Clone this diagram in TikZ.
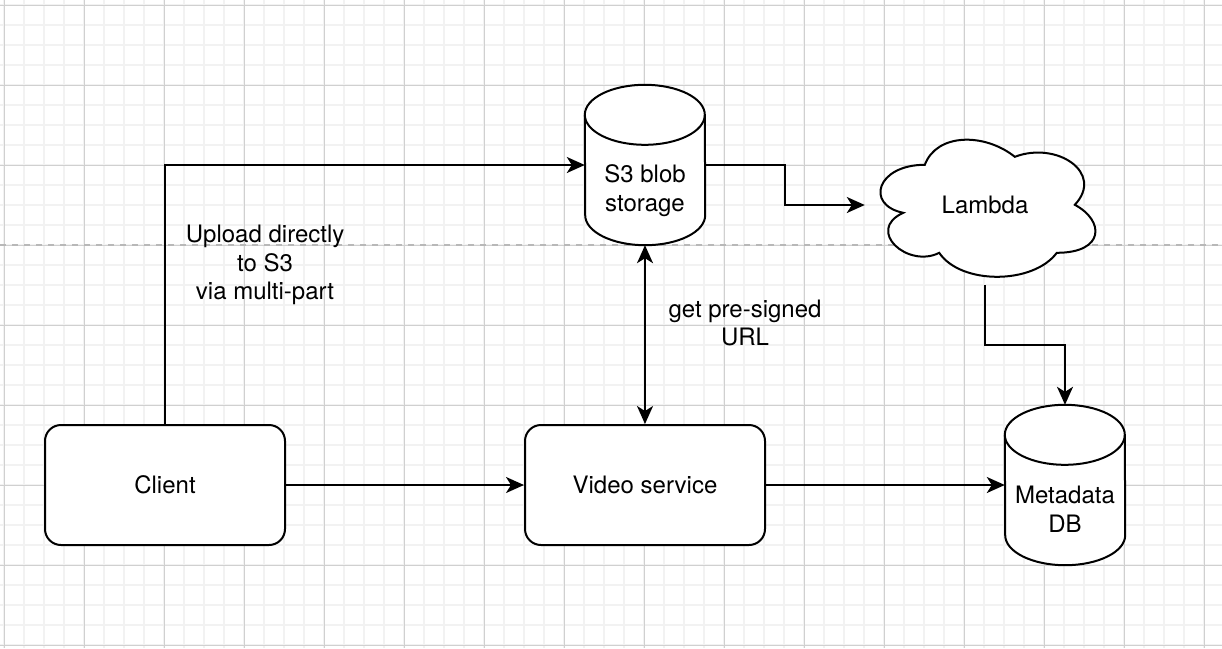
\documentclass[tikz,border=0pt]{standalone}
\usepackage{fontspec}
\setmainfont{TeX Gyre Heros}
\usetikzlibrary{arrows.meta}

\definecolor{minorgrid}{HTML}{F2F2F2}
\definecolor{majorgrid}{HTML}{D0D0D0}
\definecolor{pagebreak}{HTML}{B8B8B8}

\tikzset{
  shapeline/.style={line width=2pt, black},
  flow/.style={shapeline, -{Stealth[length=18pt,width=16pt,inset=5pt]}},
  twoway/.style={shapeline, {Stealth[length=18pt,width=16pt,inset=5pt]}-{Stealth[length=18pt,width=16pt,inset=5pt]}},
  service/.style={draw, shapeline, fill=white, rounded corners=16pt, minimum width=240pt, minimum height=120pt},
  cylbox/.style={minimum width=120pt, minimum height=160pt, inner sep=0pt},
  cloudbox/.style={minimum width=240pt, minimum height=160pt, inner sep=0pt},
  txt/.style={align=center, inner sep=0pt}
}

% cylinder outline round an empty box node
\newcommand{\drawcyl}[1]{%
  \draw[shapeline, fill=white] ([yshift=-30pt]#1.north west)
    arc[start angle=180, end angle=0, x radius=60pt, y radius=30pt]
    -- ([yshift=30pt]#1.south east)
    arc[start angle=0, end angle=-180, x radius=60pt, y radius=30pt] -- cycle;
  \draw[shapeline] ([yshift=-30pt]#1.north west)
    arc[start angle=180, end angle=360, x radius=60pt, y radius=30pt];}

\begin{document}
\begin{tikzpicture}
  [x=1pt, y=-1pt, font=\fontsize{24}{28.8}\selectfont]
  \useasboundingbox[fill=white] (0,0) rectangle (1222,648);

  % grid
  \foreach \x in {0,...,61}
    \draw[minorgrid, line width=1.5pt] (4+20*\x,0) -- (4+20*\x,648);
  \foreach \y in {0,...,32}
    \draw[minorgrid, line width=1.5pt] (0,5+20*\y) -- (1222,5+20*\y);
  \foreach \x in {0,...,15}
    \draw[majorgrid, line width=1pt] (4+80*\x,0) -- (4+80*\x,648);
  \foreach \y in {0,...,8}
    \draw[majorgrid, line width=1pt] (0,5+80*\y) -- (1222,5+80*\y);
  \draw[pagebreak, line width=1.3pt, dash pattern=on 6pt off 6pt] (0,245) -- (1222,245);

  % nodes
  \node[service] (client) at (165,485) {Client};
  \node[service] (video) at (645,485) {Video service};

  \node[cylbox] (s3) at (645,165) {};
  \drawcyl{s3}
  \node[txt] (s3txt) at ([yshift=-26pt]s3.center) {S3 blob\\storage};

  \node[cylbox] (db) at (1065,485) {};
  \drawcyl{db}
  \node[txt] (dbtxt) at ([yshift=-24pt]db.center) {Metadata\\DB};

  \node[cloudbox] (lambda) at (985,205) {};
  \begin{scope}[shift={(lambda.north west)}, x=240pt, y=-160pt]
    \draw[shapeline, fill=white] (0.25,0.25) .. controls (0.05,0.25) and (0,0.5) .. (0.16,0.55)
      .. controls (0,0.66) and (0.18,0.9) .. (0.31,0.8)
      .. controls (0.4,1) and (0.7,1) .. (0.8,0.8)
      .. controls (1,0.8) and (1,0.6) .. (0.875,0.5)
      .. controls (1,0.3) and (0.8,0.1) .. (0.625,0.2)
      .. controls (0.5,0.05) and (0.3,0.05) .. (0.25,0.25) -- cycle;
  \end{scope}
  \node[txt] (lambdatxt) at (lambda.center) {Lambda};

  % connectors
  \draw[flow] (client.north) |- (s3.west);
  \draw[flow] (client.east) -- (video.west);
  \draw[flow] (video.east) -- (db.west);
  \draw[twoway] (s3.south) -- (video.north);
  \draw[flow] (s3.east) -- ++(80,0) |- (lambda.west);
  \draw[flow] (lambda.south) -- ++(0,60) -| (db.north);

  \node[txt] (uploadlbl) at (265,265) {Upload directly\\to S3\\via multi-part};
  \node[txt] (urllbl) at (745,323) {get pre-signed\\URL};
\end{tikzpicture}
\end{document}
